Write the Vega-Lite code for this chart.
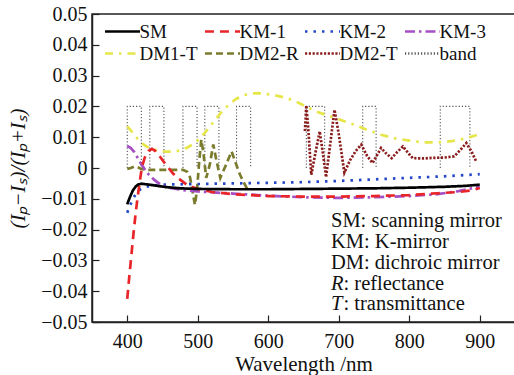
{
  "$schema": "https://vega.github.io/schema/vega-lite/v6.json",
  "width": 423,
  "height": 308,
  "autosize": "none",
  "padding": {"left": 92, "top": 14, "right": 0, "bottom": 53},
  "config": {
    "font": "Liberation Serif",
    "view": {"stroke": "#222", "strokeWidth": 1.5},
    "axis": {
      "domainColor": "#222", "domainWidth": 1.5, "tickColor": "#222", "tickWidth": 1.2,
      "tickSize": -7, "grid": false, "labelFont": "Liberation Serif", "labelFontSize": 20,
      "labelColor": "#111", "labelOverlap": false, "titleFont": "Liberation Serif", "titleFontSize": 21,
      "titleFontWeight": "normal", "titleColor": "#111"
    },
    "legend": {
      "labelFont": "Liberation Serif", "labelFontSize": 19, "labelColor": "#111"
    }
  },
  "datasets": {
    "bands": [
      {"s":"band","g":"b1","x":400,"y":0},{"s":"band","g":"b1","x":400,"y":0.02},{"s":"band","g":"b1","x":420,"y":0.02},{"s":"band","g":"b1","x":420,"y":0},
      {"s":"band","g":"b2","x":432,"y":0},{"s":"band","g":"b2","x":432,"y":0.02},{"s":"band","g":"b2","x":452,"y":0.02},{"s":"band","g":"b2","x":452,"y":0},
      {"s":"band","g":"b3","x":479,"y":0},{"s":"band","g":"b3","x":479,"y":0.02},{"s":"band","g":"b3","x":499,"y":0.02},{"s":"band","g":"b3","x":499,"y":0},
      {"s":"band","g":"b4","x":510,"y":0},{"s":"band","g":"b4","x":510,"y":0.02},{"s":"band","g":"b4","x":530,"y":0.02},{"s":"band","g":"b4","x":530,"y":0},
      {"s":"band","g":"b5","x":555,"y":0},{"s":"band","g":"b5","x":555,"y":0.02},{"s":"band","g":"b5","x":575,"y":0.02},{"s":"band","g":"b5","x":575,"y":0},
      {"s":"band","g":"b6","x":654,"y":0},{"s":"band","g":"b6","x":654,"y":0.02},{"s":"band","g":"b6","x":680,"y":0.02},{"s":"band","g":"b6","x":680,"y":0},
      {"s":"band","g":"b7","x":734,"y":0},{"s":"band","g":"b7","x":734,"y":0.02},{"s":"band","g":"b7","x":753,"y":0.02},{"s":"band","g":"b7","x":753,"y":0},
      {"s":"band","g":"b8","x":844,"y":0},{"s":"band","g":"b8","x":844,"y":0.02},{"s":"band","g":"b8","x":886,"y":0.02},{"s":"band","g":"b8","x":886,"y":0}
    ],
    "curves": [
      {"s":"DM1-T","x":400,"y":0.0135},{"s":"DM1-T","x":405,"y":0.0122},{"s":"DM1-T","x":410,"y":0.0108},{"s":"DM1-T","x":415,"y":0.0094},{"s":"DM1-T","x":420,"y":0.0082},{"s":"DM1-T","x":427,"y":0.0070},{"s":"DM1-T","x":435,"y":0.0062},{"s":"DM1-T","x":445,"y":0.0056},{"s":"DM1-T","x":455,"y":0.0053},{"s":"DM1-T","x":465,"y":0.0053},{"s":"DM1-T","x":475,"y":0.0057},{"s":"DM1-T","x":485,"y":0.0066},{"s":"DM1-T","x":495,"y":0.0080},{"s":"DM1-T","x":505,"y":0.0100},{"s":"DM1-T","x":515,"y":0.0128},{"s":"DM1-T","x":525,"y":0.0157},{"s":"DM1-T","x":535,"y":0.0185},{"s":"DM1-T","x":545,"y":0.0208},{"s":"DM1-T","x":555,"y":0.0225},{"s":"DM1-T","x":565,"y":0.0236},{"s":"DM1-T","x":575,"y":0.0242},{"s":"DM1-T","x":585,"y":0.0243},{"s":"DM1-T","x":595,"y":0.0241},{"s":"DM1-T","x":610,"y":0.0236},{"s":"DM1-T","x":625,"y":0.0228},{"s":"DM1-T","x":640,"y":0.0215},{"s":"DM1-T","x":655,"y":0.0198},{"s":"DM1-T","x":670,"y":0.0182},{"s":"DM1-T","x":685,"y":0.0170},{"s":"DM1-T","x":700,"y":0.0158},{"s":"DM1-T","x":720,"y":0.0142},{"s":"DM1-T","x":740,"y":0.0124},{"s":"DM1-T","x":760,"y":0.0108},{"s":"DM1-T","x":780,"y":0.0096},{"s":"DM1-T","x":800,"y":0.0089},{"s":"DM1-T","x":820,"y":0.0083},{"s":"DM1-T","x":840,"y":0.0083},{"s":"DM1-T","x":860,"y":0.0087},{"s":"DM1-T","x":880,"y":0.0096},{"s":"DM1-T","x":900,"y":0.0110},

      {"s":"DM2-R","x":400,"y":-0.0003},{"s":"DM2-R","x":405,"y":0.0},{"s":"DM2-R","x":410,"y":0.0005},{"s":"DM2-R","x":415,"y":0.0002},{"s":"DM2-R","x":420,"y":-0.0003},{"s":"DM2-R","x":430,"y":-0.0006},{"s":"DM2-R","x":445,"y":-0.0006},{"s":"DM2-R","x":460,"y":-0.0006},{"s":"DM2-R","x":479,"y":-0.0006},{"s":"DM2-R","x":485,"y":-0.0012},{"s":"DM2-R","x":489,"y":-0.0030},{"s":"DM2-R","x":493,"y":-0.0080},{"s":"DM2-R","x":496,"y":-0.0120},{"s":"DM2-R","x":499,"y":-0.0070},{"s":"DM2-R","x":502,"y":0.0020},{"s":"DM2-R","x":505,"y":0.0092},{"s":"DM2-R","x":508,"y":0.0050},{"s":"DM2-R","x":512,"y":-0.0032},{"s":"DM2-R","x":517,"y":0.0010},{"s":"DM2-R","x":522,"y":0.0076},{"s":"DM2-R","x":526,"y":0.0030},{"s":"DM2-R","x":532,"y":-0.0032},{"s":"DM2-R","x":540,"y":0.0010},{"s":"DM2-R","x":548,"y":0.0054},{"s":"DM2-R","x":554,"y":0.0015},{"s":"DM2-R","x":560,"y":-0.0022},{"s":"DM2-R","x":566,"y":-0.0050},{"s":"DM2-R","x":572,"y":-0.0076},

      {"s":"DM2-T","x":652,"y":0.0120},{"s":"DM2-T","x":654,"y":0.0203},{"s":"DM2-T","x":657,"y":0.0120},{"s":"DM2-T","x":661,"y":-0.0022},{"s":"DM2-T","x":667,"y":0.0050},{"s":"DM2-T","x":673,"y":0.0119},{"s":"DM2-T","x":678,"y":0.0040},{"s":"DM2-T","x":682,"y":-0.0030},{"s":"DM2-T","x":688,"y":0.0080},{"s":"DM2-T","x":694,"y":0.0189},{"s":"DM2-T","x":700,"y":0.0110},{"s":"DM2-T","x":708,"y":-0.0015},{"s":"DM2-T","x":716,"y":0.0025},{"s":"DM2-T","x":724,"y":0.0055},{"s":"DM2-T","x":732,"y":0.0076},{"s":"DM2-T","x":740,"y":0.0040},{"s":"DM2-T","x":748,"y":0.0016},{"s":"DM2-T","x":754,"y":0.0040},{"s":"DM2-T","x":760,"y":0.0065},{"s":"DM2-T","x":767,"y":0.0048},{"s":"DM2-T","x":775,"y":0.0032},{"s":"DM2-T","x":783,"y":0.0052},{"s":"DM2-T","x":791,"y":0.0070},{"s":"DM2-T","x":798,"y":0.0050},{"s":"DM2-T","x":805,"y":0.0032},{"s":"DM2-T","x":820,"y":0.0031},{"s":"DM2-T","x":835,"y":0.0033},{"s":"DM2-T","x":850,"y":0.0034},{"s":"DM2-T","x":864,"y":0.0038},{"s":"DM2-T","x":873,"y":0.0060},{"s":"DM2-T","x":881,"y":0.0081},{"s":"DM2-T","x":888,"y":0.0055},{"s":"DM2-T","x":895,"y":0.0021},

      {"s":"KM-2","x":400,"y":-0.0145},{"s":"KM-2","x":404,"y":-0.0122},{"s":"KM-2","x":408,"y":-0.0100},{"s":"KM-2","x":413,"y":-0.0082},{"s":"KM-2","x":418,"y":-0.0070},{"s":"KM-2","x":425,"y":-0.0062},{"s":"KM-2","x":435,"y":-0.0057},{"s":"KM-2","x":450,"y":-0.0054},{"s":"KM-2","x":500,"y":-0.0052},{"s":"KM-2","x":550,"y":-0.0050},{"s":"KM-2","x":600,"y":-0.0048},{"s":"KM-2","x":650,"y":-0.0046},{"s":"KM-2","x":700,"y":-0.0042},{"s":"KM-2","x":750,"y":-0.0037},{"s":"KM-2","x":800,"y":-0.0032},{"s":"KM-2","x":850,"y":-0.0027},{"s":"KM-2","x":880,"y":-0.0023},{"s":"KM-2","x":900,"y":-0.0020},

      {"s":"KM-3","x":400,"y":0.0072},{"s":"KM-3","x":405,"y":0.0065},{"s":"KM-3","x":410,"y":0.0052},{"s":"KM-3","x":415,"y":0.0032},{"s":"KM-3","x":420,"y":0.0012},{"s":"KM-3","x":425,"y":-0.0005},{"s":"KM-3","x":430,"y":-0.0020},{"s":"KM-3","x":438,"y":-0.0038},{"s":"KM-3","x":448,"y":-0.0055},{"s":"KM-3","x":460,"y":-0.0065},{"s":"KM-3","x":480,"y":-0.0072},{"s":"KM-3","x":500,"y":-0.0076},{"s":"KM-3","x":550,"y":-0.0083},{"s":"KM-3","x":600,"y":-0.0090},{"s":"KM-3","x":650,"y":-0.0095},{"s":"KM-3","x":700,"y":-0.0097},{"s":"KM-3","x":750,"y":-0.0095},{"s":"KM-3","x":800,"y":-0.0091},{"s":"KM-3","x":840,"y":-0.0085},{"s":"KM-3","x":870,"y":-0.0075},{"s":"KM-3","x":900,"y":-0.0060},

      {"s":"KM-1","x":400,"y":-0.0425},{"s":"KM-1","x":403,"y":-0.0350},{"s":"KM-1","x":406,"y":-0.0280},{"s":"KM-1","x":409,"y":-0.0210},{"s":"KM-1","x":412,"y":-0.0145},{"s":"KM-1","x":415,"y":-0.0090},{"s":"KM-1","x":418,"y":-0.0040},{"s":"KM-1","x":421,"y":0.0005},{"s":"KM-1","x":425,"y":0.0035},{"s":"KM-1","x":430,"y":0.0055},{"s":"KM-1","x":435,"y":0.0062},{"s":"KM-1","x":440,"y":0.0055},{"s":"KM-1","x":447,"y":0.0035},{"s":"KM-1","x":455,"y":0.0010},{"s":"KM-1","x":465,"y":-0.0018},{"s":"KM-1","x":475,"y":-0.0038},{"s":"KM-1","x":485,"y":-0.0055},{"s":"KM-1","x":500,"y":-0.0068},{"s":"KM-1","x":520,"y":-0.0078},{"s":"KM-1","x":550,"y":-0.0085},{"s":"KM-1","x":600,"y":-0.0091},{"s":"KM-1","x":650,"y":-0.0093},{"s":"KM-1","x":700,"y":-0.0093},{"s":"KM-1","x":750,"y":-0.0091},{"s":"KM-1","x":800,"y":-0.0088},{"s":"KM-1","x":840,"y":-0.0082},{"s":"KM-1","x":870,"y":-0.0078},{"s":"KM-1","x":890,"y":-0.0072},{"s":"KM-1","x":900,"y":-0.0065},

      {"s":"SM","x":400,"y":-0.0118},{"s":"SM","x":402,"y":-0.0105},{"s":"SM","x":405,"y":-0.0088},{"s":"SM","x":408,"y":-0.0073},{"s":"SM","x":412,"y":-0.0060},{"s":"SM","x":416,"y":-0.0053},{"s":"SM","x":420,"y":-0.0051},{"s":"SM","x":428,"y":-0.0053},{"s":"SM","x":440,"y":-0.0057},{"s":"SM","x":455,"y":-0.0062},{"s":"SM","x":475,"y":-0.0066},{"s":"SM","x":500,"y":-0.0068},{"s":"SM","x":550,"y":-0.0069},{"s":"SM","x":600,"y":-0.0069},{"s":"SM","x":650,"y":-0.0068},{"s":"SM","x":700,"y":-0.0067},{"s":"SM","x":750,"y":-0.0066},{"s":"SM","x":800,"y":-0.0064},{"s":"SM","x":850,"y":-0.0061},{"s":"SM","x":880,"y":-0.0058},{"s":"SM","x":900,"y":-0.0054}
    ],
    "notes": [
      {"lead":"SM","rest":": scanning mirror","full":"SM: scanning mirror","it":false,"x":689,"y":-0.0173},
      {"lead":"KM","rest":": K-mirror","full":"KM: K-mirror","it":false,"x":689,"y":-0.0241},
      {"lead":"DM","rest":": dichroic mirror","full":"DM: dichroic mirror","it":false,"x":689,"y":-0.0309},
      {"lead":"R","rest":": reflectance","full":"R: reflectance","it":true,"x":689,"y":-0.0376},
      {"lead":"T","rest":": transmittance","full":"T: transmittance","it":true,"x":689,"y":-0.0443}
    ]
  },
  "encoding": {
    "x": {"field": "x", "type": "quantitative", "scale": {"domain": [350, 950], "nice": false},
      "axis": {"values": [400, 500, 600, 700, 800, 900], "format": "d", "title": "Wavelength /nm",
        "labelPadding": 16, "titlePadding": 2}},
    "y": {"field": "y", "type": "quantitative", "scale": {"domain": [-0.05, 0.05], "nice": false},
      "axis": {"values": [-0.05, -0.04, -0.03, -0.02, -0.01, 0, 0.01, 0.02, 0.03, 0.04, 0.05],
        "labelExpr": "datum.value == 0 ? '0' : format(datum.value, '.2f')",
        "labelPadding": 12, "title": "(Iₚ−Iₛ)/(Iₚ+Iₛ)", "titleFontStyle": "italic", "titlePadding": 12}}
  },
  "layer": [
    {
      "data": {"name": "bands"},
      "mark": {"type": "line", "strokeWidth": 1.1, "clip": true},
      "encoding": {
        "color": {"field": "s", "type": "nominal",
          "scale": {"domain": ["SM", "KM-1", "KM-2", "KM-3", "DM1-T", "DM2-R", "DM2-T", "band"],
            "range": ["#000000", "#e8262a", "#2447c8", "#a64fc4", "#e6e64a", "#7b7b2e", "#8a1c1c", "#555555"]},
          "legend": {"title": null, "orient": "none", "direction": "horizontal", "legendX": 18.5, "legendY": 5.5, "columns": 4,
            "gridAlign": "all", "symbolType": "M-1.67,0H1.67", "symbolSize": 441, "symbolStrokeWidth": 2.5,
            "labelFont": "Liberation Serif", "labelFontSize": 19, "labelOffset": 5,
            "columnPadding": 0, "rowPadding": 0, "padding": 0}},
        "strokeDash": {"field": "s", "type": "nominal",
          "scale": {"domain": ["SM", "KM-1", "KM-2", "KM-3", "DM1-T", "DM2-R", "DM2-T", "band"],
            "range": [[1, 0], [9, 6], [2.5, 6], [10, 4, 2.5, 4], [8, 6, 2.5, 6], [7, 4], [2.2, 1.6], [1.2, 2]]},
          "legend": {"title": null, "orient": "none", "direction": "horizontal", "legendX": 18.5, "legendY": 5.5, "columns": 4,
            "gridAlign": "all", "symbolType": "M-1.67,0H1.67", "symbolSize": 441, "symbolStrokeWidth": 2.5,
            "labelFont": "Liberation Serif", "labelFontSize": 19, "labelOffset": 5,
            "columnPadding": 0, "rowPadding": 0, "padding": 0}},
        "detail": {"field": "g", "type": "nominal"}
      }
    },
    {
      "data": {"name": "curves"},
      "mark": {"type": "line", "strokeWidth": 2.7, "clip": true},
      "encoding": {
        "color": {"field": "s", "type": "nominal"},
        "strokeDash": {"field": "s", "type": "nominal"}
      }
    },
    {
      "data": {"name": "notes"},
      "transform": [{"filter": "!datum.it"}],
      "mark": {"type": "text", "align": "left", "baseline": "middle", "fontSize": 20.5, "font": "Liberation Serif", "color": "#111"},
      "encoding": {
        "text": {"field": "full"}
      }
    },
    {
      "data": {"name": "notes"},
      "transform": [{"filter": "datum.it"}],
      "mark": {"type": "text", "align": "left", "baseline": "middle", "fontSize": 20.5, "font": "Liberation Serif", "fontStyle": "italic", "color": "#111"},
      "encoding": {
        "text": {"field": "lead"}
      }
    },
    {
      "data": {"name": "notes"},
      "transform": [{"filter": "datum.it"}],
      "mark": {"type": "text", "align": "left", "baseline": "middle", "fontSize": 20.5, "font": "Liberation Serif", "color": "#111", "dx": 12.5},
      "encoding": {
        "text": {"field": "rest"}
      }
    }
  ]
}
